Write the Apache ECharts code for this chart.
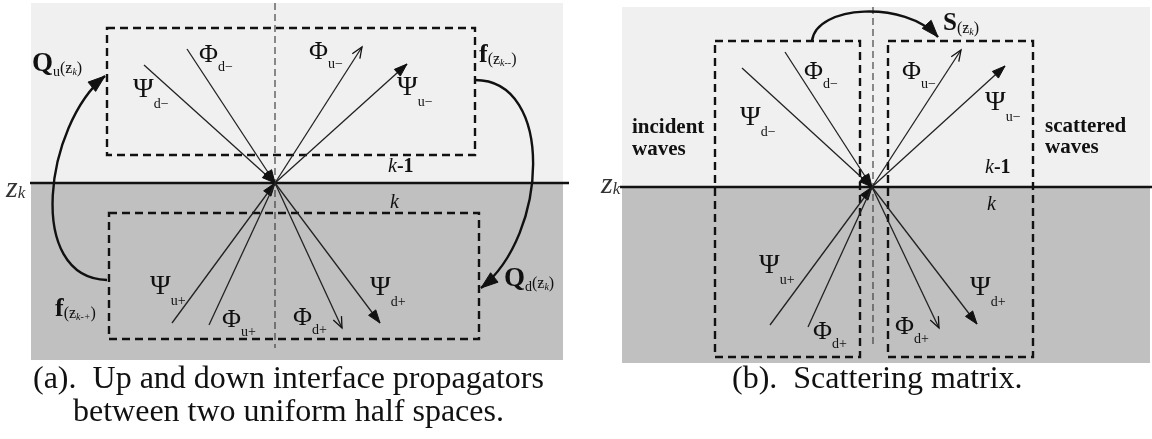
<!DOCTYPE html>
<html><head><meta charset="utf-8">
<script src="https://cdn.jsdelivr.net/npm/echarts@6/dist/echarts.min.js"></script>
<style>html,body{margin:0;padding:0;background:#fff}#c{width:1152px;height:439px}</style>
</head><body><div id="c"></div>
<script>
// ---------- diagram data (diagram units) ----------
// panels: x0, yTop, x1, yInterface, yBottom
const panels = [
  [31, 3, 563, 183, 360],
  [622, 7, 1150, 187, 363]
];
// interface lines z_k
const interfaces = [[30,183,569,183],[620,187,1152,187]];
// vertical (normal) dashed lines
const normals = [[275,3,275,348],[873,7,873,348]];
// dashed boxes: x0,y0,x1,y1
const boxes = [[107,28,475,155],[109,213,479,339],[715,41,860,357],[888,41,1033,357]];
// rays: x1,y1,x2,y2, head (0 none, 1 filled, 2 open)
const rays = [
  [144,65,275,183,1],   // (a) Psi d-
  [187,49,275,183,1],   // (a) Phi d-
  [275,183,362,47,2],   // (a) Phi u-
  [275,183,407,64,1],   // (a) Psi u-
  [172,323,275,183,1],  // (a) Psi u+
  [209,325,275,183,0],  // (a) Phi u+
  [275,183,342,328,2],  // (a) Phi d+
  [275,183,380,323,1],  // (a) Psi d+
  [742,68,872,187,1],   // (b) Psi d-
  [785,52,872,187,1],   // (b) Phi d-
  [872,187,961,50,2],   // (b) Phi u-
  [872,187,1005,66,1],  // (b) Psi u-
  [770,325,872,187,1],  // (b) Psi u+
  [808,327,872,187,0],  // (b) Phi d+ (incident)
  [872,187,939,328,2],  // (b) Phi d+
  [872,187,977,324,1]   // (b) Psi d+
];
// curved arrows: x1,y1, cx1,cy1, cx2,cy2, x2,y2
const curves = [
  [107,280, 25,278, 45,125, 105,76],
  [475,80, 555,80, 548,235, 481,288],
  [812,41, 816,5, 905,0, 938,37]
];
// text labels: anchor and parts [text, styleKey]
const labels = [
  {at:[32,64],   parts:[['Q','qb'],['u','qsub'],['(ƶ','par'],['k','pk'],[')','par']]},
  {at:[133,90],  parts:[['Ψ','psi'],['d−','subPsi']]},
  {at:[199,55],  parts:[['Φ','phi'],['d−','subPhi']]},
  {at:[309,52],  parts:[['Φ','phi'],['u−','subPhi']]},
  {at:[397,88],  parts:[['Ψ','psi'],['u−','subPsi']]},
  {at:[479,55],  parts:[['f','fb'],['(ƶ','par'],['k--','pk'],[')','par']]},
  {at:[388,167], parts:[['k','kit'],['-1','kb']]},
  {at:[390,203], parts:[['k','kit']]},
  {at:[6,189],   parts:[['z','z'],['k','zsub']]},
  {at:[150,287], parts:[['Ψ','psi'],['u+','subPsi']]},
  {at:[55,309],  parts:[['f','fb'],['(ƶ','par'],['k-+','pk'],[')','par']]},
  {at:[222,320], parts:[['Φ','phi'],['u+','subPhi']]},
  {at:[293,318], parts:[['Φ','phi'],['d+','subPhi']]},
  {at:[370,288], parts:[['Ψ','psi'],['d+','subPsi']]},
  {at:[504,279], parts:[['Q','qb'],['d','qsub'],['(ƶ','par'],['k','pk'],[')','par']]},
  {at:[804,72],  parts:[['Φ','phi'],['d−','subPhi']]},
  {at:[740,118], parts:[['Ψ','psi'],['d−','subPsi']]},
  {at:[632,128], parts:[['incident','note']]},
  {at:[632,150], parts:[['waves','note']]},
  {at:[943,24],  parts:[['S','sb'],['(ƶ','par'],['k','pk'],[')','par']]},
  {at:[902,72],  parts:[['Φ','phi'],['u−','subPhi']]},
  {at:[985,103], parts:[['Ψ','psi'],['u−','subPsi']]},
  {at:[1045,127],parts:[['scattered','note']]},
  {at:[1045,148],parts:[['waves','note']]},
  {at:[985,168], parts:[['k','kit'],['-1','kb']]},
  {at:[987,205], parts:[['k','kit']]},
  {at:[601,185], parts:[['z','z'],['k','zsub']]},
  {at:[759,266], parts:[['Ψ','psi'],['u+','subPsi']]},
  {at:[813,332], parts:[['Φ','phi'],['d+','subPhi']]},
  {at:[895,327], parts:[['Φ','phi'],['d+','subPhi']]},
  {at:[970,288], parts:[['Ψ','psi'],['d+','subPsi']]},
  {at:[33,380],  parts:[['(a).  Up and down interface propagators','cap']]},
  {at:[73,413],  parts:[['between two uniform half spaces.','cap']]},
  {at:[732,380], parts:[['(b).  Scattering matrix.','cap']]}
];

// ---------- styles ----------
const FF = '"Liberation Serif", "Times New Roman", serif';
const TS = {
  psi:{font:'28px '+FF, dy:0}, phi:{font:'26px '+FF, dy:0},
  subPsi:{font:'14px '+FF, dy:14}, subPhi:{font:'14px '+FF, dy:12},
  qb:{font:'bold 27px '+FF, dy:0}, fb:{font:'bold 26px '+FF, dy:0}, sb:{font:'bold 25px '+FF, dy:0},
  qsub:{font:'14px '+FF, dy:8}, par:{font:'16px '+FF, dy:5}, pk:{font:'italic 10px '+FF, dy:8},
  z:{font:'italic 30px '+FF, dy:0, fill:'#333'}, zsub:{font:'italic 17px '+FF, dy:5, fill:'#333'},
  kit:{font:'italic 20px '+FF, dy:0}, kb:{font:'bold 20px '+FF, dy:0},
  note:{font:'bold 21px '+FF, dy:0}, cap:{font:'32px '+FF, dy:0}
};
const INK = '#111';
const mctx = document.createElement('canvas').getContext('2d');
function tw(text, font){ mctx.font = font; return mctx.measureText(text).width; }

function renderPanel(p, api){
  const a = api.coord([api.value(0), api.value(1)]);
  const m = api.coord([api.value(2), api.value(3)]);
  const b = api.coord([api.value(2), api.value(4)]);
  return {type:'group', children:[
    {type:'rect', shape:{x:a[0], y:a[1], width:m[0]-a[0], height:m[1]-a[1]}, style:{fill:'#f0f0f0'}},
    {type:'rect', shape:{x:a[0], y:m[1], width:m[0]-a[0], height:b[1]-m[1]}, style:{fill:'#c0c0c0'}}
  ]};
}
function renderSeg(w, dash, color){
  return function(p, api){
    const a = api.coord([api.value(0), api.value(1)]);
    const b = api.coord([api.value(2), api.value(3)]);
    return {type:'line', shape:{x1:a[0],y1:a[1],x2:b[0],y2:b[1]},
      style:{stroke:color, lineWidth:w, lineDash:dash, fill:'none'}};
  };
}
function renderBox(p, api){
  const a = api.coord([api.value(0), api.value(1)]);
  const b = api.coord([api.value(2), api.value(3)]);
  return {type:'rect', shape:{x:a[0], y:a[1], width:b[0]-a[0], height:b[1]-a[1]},
    style:{fill:'none', stroke:'#111', lineWidth:2.4, lineDash:[8,5]}};
}
function head(tip, ang, kind, L, Wd){
  const c = Math.cos(ang), s = Math.sin(ang);
  const bx = tip[0]-L*c, by = tip[1]-L*s;
  const l = [bx - Wd*s, by + Wd*c], r = [bx + Wd*s, by - Wd*c];
  if(kind === 1) return {type:'polygon', shape:{points:[tip, l, r]}, style:{fill:INK, stroke:INK, lineWidth:1}};
  return {type:'polyline', shape:{points:[l, tip, r]}, style:{fill:'none', stroke:INK, lineWidth:1.3}};
}
function renderRay(p, api){
  const a = api.coord([api.value(0), api.value(1)]);
  const b = api.coord([api.value(2), api.value(3)]);
  const k = api.value(4);
  const ang = Math.atan2(b[1]-a[1], b[0]-a[0]);
  const ch = [{type:'line', shape:{x1:a[0],y1:a[1],x2:b[0],y2:b[1]}, style:{stroke:'#222', lineWidth:1.3, fill:'none'}}];
  if(k === 1) ch.push(head(b, ang, 1, 13, 4.5));
  if(k === 2) ch.push(head(b, ang, 2, 11, 4.5));
  return {type:'group', children:ch};
}
function renderCurve(p, api){
  const P = [];
  for(let i=0;i<4;i++) P.push(api.coord([api.value(2*i), api.value(2*i+1)]));
  const ang = Math.atan2(P[3][1]-P[2][1], P[3][0]-P[2][0]);
  return {type:'group', children:[
    {type:'bezierCurve', shape:{x1:P[0][0],y1:P[0][1],cpx1:P[1][0],cpy1:P[1][1],cpx2:P[2][0],cpy2:P[2][1],x2:P[3][0],y2:P[3][1]},
      style:{fill:'none', stroke:INK, lineWidth:2.4}},
    head(P[3], ang, 1, 17, 6)
  ]};
}
function renderLabel(p, api){
  const L = labels[p.dataIndex];
  const o = api.coord([api.value(0), api.value(1)]);
  let x = o[0];
  const ch = [];
  L.parts.forEach(function(pt){
    const st = TS[pt[1]];
    ch.push({type:'text', x:x, y:o[1] + st.dy,
      style:{text:pt[0], font:st.font, fill:st.fill || INK, align:'left', verticalAlign:'middle'}});
    x += tw(pt[0], st.font);
  });
  return {type:'group', children:ch};
}

const base = {type:'custom', coordinateSystem:'cartesian2d', silent:true, animation:false};
const chart = echarts.init(document.getElementById('c'), null, {renderer:'canvas'});
chart.setOption({
  animation:false,
  backgroundColor:'#ffffff',
  grid:{left:0, right:0, top:0, bottom:0},
  xAxis:{type:'value', min:0, max:1152, show:false},
  yAxis:{type:'value', min:0, max:439, inverse:true, show:false},
  series:[
    Object.assign({}, base, {name:'panels', data:panels, renderItem:renderPanel, z:1}),
    Object.assign({}, base, {name:'normals', data:normals, renderItem:renderSeg(1.1,[7,4],'#333'), z:2}),
    Object.assign({}, base, {name:'boxes', data:boxes, renderItem:renderBox, z:3}),
    Object.assign({}, base, {name:'interfaces', data:interfaces, renderItem:renderSeg(2.4,null,'#111'), z:4}),
    Object.assign({}, base, {name:'rays', data:rays, renderItem:renderRay, z:5}),
    Object.assign({}, base, {name:'curves', data:curves, renderItem:renderCurve, z:6}),
    Object.assign({}, base, {name:'labels', data:labels.map(function(l){return l.at;}), renderItem:renderLabel, z:7})
  ]
});
</script></body></html>
